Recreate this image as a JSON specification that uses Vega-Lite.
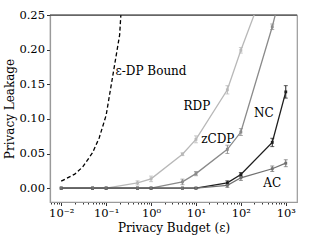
{
  "$schema": "https://vega.github.io/schema/vega-lite/v6.json",
  "width": 247,
  "height": 187,
  "autosize": {"type": "none"},
  "padding": {"left": 50, "top": 15, "right": 13, "bottom": 45},
  "config": {
    "view": {"stroke": "#9a9a9a", "strokeWidth": 1.2},
    "font": "DejaVu Serif",
    "text": {"font": "DejaVu Serif"},
    "axis": {
      "grid": false,
      "labelFont": "DejaVu Serif",
      "titleFont": "DejaVu Serif",
      "labelFontSize": 11.5,
      "titleFontSize": 12,
      "titleFontWeight": "normal",
      "labelColor": "#000",
      "titleColor": "#000",
      "tickColor": "#333",
      "domainColor": "#9a9a9a",
      "domainWidth": 1.2
    }
  },
  "datasets": {
    "bound": [
      {"eps": 0.01, "val": 0.01005},
      {"eps": 0.02, "val": 0.0202},
      {"eps": 0.03, "val": 0.0305},
      {"eps": 0.05, "val": 0.0513},
      {"eps": 0.07, "val": 0.0725},
      {"eps": 0.1, "val": 0.1052},
      {"eps": 0.2, "val": 0.2214},
      {"eps": 0.5, "val": 0.6487}
    ],
    "frame": [
      {"eps": 0.005623, "val": 0.25},
      {"eps": 1778.28, "val": 0.25}
    ],
    "series": [
      {"series": "RDP", "eps": 0.01, "val": 0, "err": 0},
      {"series": "RDP", "eps": 0.05, "val": 0, "err": 0},
      {"series": "RDP", "eps": 0.1, "val": 0, "err": 0},
      {"series": "RDP", "eps": 0.5, "val": 0.0076, "err": 0.003},
      {"series": "RDP", "eps": 1, "val": 0.0134, "err": 0.004},
      {"series": "RDP", "eps": 5, "val": 0.049, "err": 0.002},
      {"series": "RDP", "eps": 10, "val": 0.0705, "err": 0.005},
      {"series": "RDP", "eps": 50, "val": 0.142, "err": 0.006},
      {"series": "RDP", "eps": 100, "val": 0.199, "err": 0.004},
      {"series": "RDP", "eps": 500, "val": 0.32, "err": 0.005},
      {"series": "RDP", "eps": 1000, "val": 0.42, "err": 0.005},
      {"series": "zCDP", "eps": 0.01, "val": 0, "err": 0},
      {"series": "zCDP", "eps": 0.05, "val": 0, "err": 0},
      {"series": "zCDP", "eps": 0.1, "val": 0, "err": 0},
      {"series": "zCDP", "eps": 0.5, "val": 0, "err": 0},
      {"series": "zCDP", "eps": 1, "val": 0, "err": 0},
      {"series": "zCDP", "eps": 5, "val": 0.009, "err": 0.004},
      {"series": "zCDP", "eps": 10, "val": 0.021, "err": 0.003},
      {"series": "zCDP", "eps": 50, "val": 0.056, "err": 0.006},
      {"series": "zCDP", "eps": 100, "val": 0.081, "err": 0.005},
      {"series": "zCDP", "eps": 500, "val": 0.233, "err": 0.004},
      {"series": "zCDP", "eps": 1000, "val": 0.31, "err": 0.005},
      {"series": "NC", "eps": 0.01, "val": 0, "err": 0},
      {"series": "NC", "eps": 0.05, "val": 0, "err": 0},
      {"series": "NC", "eps": 0.1, "val": 0, "err": 0},
      {"series": "NC", "eps": 0.5, "val": 0, "err": 0},
      {"series": "NC", "eps": 1, "val": 0, "err": 0},
      {"series": "NC", "eps": 5, "val": 0, "err": 0},
      {"series": "NC", "eps": 10, "val": 0, "err": 0},
      {"series": "NC", "eps": 50, "val": 0.0076, "err": 0.003},
      {"series": "NC", "eps": 100, "val": 0.0196, "err": 0.003},
      {"series": "NC", "eps": 500, "val": 0.066, "err": 0.006},
      {"series": "NC", "eps": 1000, "val": 0.139, "err": 0.009},
      {"series": "AC", "eps": 0.01, "val": 0, "err": 0},
      {"series": "AC", "eps": 0.05, "val": 0, "err": 0},
      {"series": "AC", "eps": 0.1, "val": 0, "err": 0},
      {"series": "AC", "eps": 0.5, "val": 0, "err": 0},
      {"series": "AC", "eps": 1, "val": 0, "err": 0},
      {"series": "AC", "eps": 5, "val": 0, "err": 0},
      {"series": "AC", "eps": 10, "val": 0, "err": 0},
      {"series": "AC", "eps": 50, "val": 0.004, "err": 0.003},
      {"series": "AC", "eps": 100, "val": 0.015, "err": 0.004},
      {"series": "AC", "eps": 500, "val": 0.028, "err": 0.004},
      {"series": "AC", "eps": 1000, "val": 0.036, "err": 0.005}
    ],
    "labels": [
      {"text": "ε-DP Bound", "eps": 1.0, "val": 0.169},
      {"text": "RDP", "eps": 10.5, "val": 0.119},
      {"text": "zCDP", "eps": 30.6, "val": 0.0705},
      {"text": "NC", "eps": 324, "val": 0.109},
      {"text": "AC", "eps": 501, "val": 0.0075}
    ]
  },
  "encoding": {
    "x": {
      "field": "eps", "type": "quantitative",
      "title": "Privacy Budget (ε)",
      "scale": {"type": "log", "domain": [0.005623, 1778.28], "nice": false},
      "axis": {
        "values": [0.006, 0.007, 0.008, 0.009, 0.01, 0.02, 0.03, 0.04, 0.05, 0.06, 0.07, 0.08, 0.09, 0.1, 0.2, 0.3, 0.4, 0.5, 0.6, 0.7, 0.8, 0.9, 1, 2, 3, 4, 5, 6, 7, 8, 9, 10, 20, 30, 40, 50, 60, 70, 80, 90, 100, 200, 300, 400, 500, 600, 700, 800, 900, 1000],
        "labelExpr": "abs(log(datum.value)/LN10 - round(log(datum.value)/LN10)) < 1e-6 ? '10' + {'-2':'⁻²','-1':'⁻¹','0':'⁰','1':'¹','2':'²','3':'³'}['' + round(log(datum.value)/LN10)] : ''",
        "tickSize": {"condition": {"test": "abs(log(datum.value)/LN10 - round(log(datum.value)/LN10)) < 1e-6", "value": 3.5}, "value": 2},
        "labelPadding": 2,
        "titlePadding": 3,
        "labelFlush": false,
        "labelOverlap": false
      }
    },
    "y": {
      "field": "val", "type": "quantitative",
      "title": "Privacy Leakage",
      "scale": {"domain": [-0.02, 0.25], "nice": false, "zero": false},
      "axis": {
        "values": [0, 0.05, 0.1, 0.15, 0.2, 0.25],
        "format": ".2f",
        "tickSize": 3.5,
        "labelPadding": 2,
        "titlePadding": 2,
        "labelOverlap": false
      }
    }
  },
  "layer": [
    {
      "data": {"name": "bound"},
      "mark": {"type": "line", "clip": true, "color": "#000", "strokeWidth": 1.3, "strokeDash": [4, 2.5]}
    },
    {
      "data": {"name": "frame"},
      "mark": {"type": "line", "color": "#333", "strokeWidth": 1}
    },
    {
      "data": {"name": "series"},
      "mark": {"type": "line", "clip": true, "strokeWidth": 1.3},
      "encoding": {
        "color": {
          "field": "series", "type": "nominal",
          "scale": {"domain": ["RDP", "zCDP", "NC", "AC"], "range": ["#b8b8b8", "#8a8a8a", "#1e1e1e", "#707070"]},
          "legend": null
        }
      }
    },
    {
      "data": {"name": "series"},
      "transform": [{"filter": "datum.err > 0"}],
      "mark": {"type": "errorbar", "clip": true, "ticks": {"size": 4}, "thickness": 1},
      "encoding": {
        "yError": {"field": "err"},
        "color": {"field": "series", "type": "nominal", "legend": null}
      }
    },
    {
      "data": {"name": "series"},
      "mark": {"type": "point", "clip": true, "filled": true, "shape": "square", "size": 8, "opacity": 1},
      "encoding": {
        "color": {"field": "series", "type": "nominal", "legend": null}
      }
    },
    {
      "data": {"name": "labels"},
      "mark": {"type": "text", "font": "DejaVu Serif", "fontSize": 12, "align": "center", "baseline": "middle", "color": "#000"},
      "encoding": {
        "text": {"field": "text"}
      }
    }
  ]
}
